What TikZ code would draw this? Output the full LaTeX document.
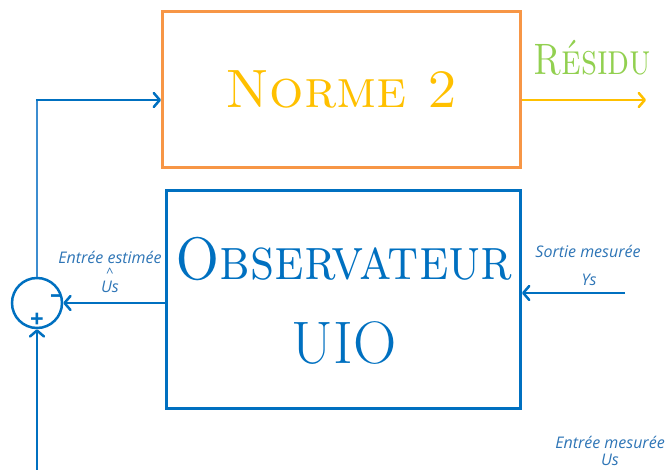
\documentclass[tikz,border=0pt]{standalone}
\usepackage{fontspec}
\newfontfamily\lblfont{Open Sans}
\usetikzlibrary{arrows.meta}
\definecolor{boxblue}{HTML}{0070C0}
\definecolor{lightblue}{HTML}{3C8DD0}
\definecolor{lblblue}{HTML}{2E75B6}
\definecolor{normorange}{HTML}{F79646}
\definecolor{normgold}{HTML}{FFC000}
\definecolor{resgreen}{HTML}{92D050}
\tikzset{
  blockbox/.style={draw, line width=3pt, inner sep=0pt},
  wire/.style={line width=2.5pt},
  link/.style={wire, -{Straight Barb[length=6pt,width=14pt,line cap=round,line join=round]}},
  lbl/.style={text=lblblue, font=\lblfont\itshape\fontsize{16}{16}\selectfont, inner sep=0pt},
  sign/.style={text=boxblue, font=\lblfont\bfseries\fontsize{24}{24}\selectfont, inner sep=0pt},
}
\begin{document}
\begin{tikzpicture}[x=1pt,y=-1pt]
\useasboundingbox (0,0) rectangle (670,470);
% upper block
\node[blockbox, draw=normorange, minimum width=358pt, minimum height=156pt, anchor=north west] (norme) at (161,10) {};
\node[text=normgold, font=\fontsize{54}{54}\selectfont] (normetxt) at (norme.center) {\textsc{Norme 2}};
% lower block
\node[blockbox, draw=boxblue, minimum width=354pt, minimum height=218pt, anchor=north west] (obs) at (165,189) {};
\node[text=boxblue, font=\fontsize{60}{60}\selectfont, inner sep=0pt, anchor=base] (obs1) at (344,280) {\scalebox{0.88}[1]{\textsc{Observateur}}};
\node[text=boxblue, font=\fontsize{60}{60}\selectfont, inner sep=0pt, anchor=base] (obs2) at (344,364) {UIO};
% summing junction
\node[draw=boxblue, circle, line width=2.5pt, minimum size=50pt, inner sep=0pt] (sum) at (37,303) {};
\node[sign] (minus) at (56,299) {–};
\node[sign] (plus) at (37,320) {+};
% free ends
\coordinate (resout) at (646,100);
\coordinate (ysin) at (625,293);
\coordinate (usin) at (37,470);
\coordinate (corner) at (37,100);
% connectors
\draw[wire, draw=lightblue] (sum.north) -- ([yshift=-1.25pt]corner);
\draw[link, draw=boxblue] ([xshift=-1.25pt]corner) -- (norme.west |- corner);
\draw[link, draw=normgold] (norme.east |- resout) -- (resout);
\draw[link, draw=boxblue] (obs.west |- sum.east) -- (sum.east);
\draw[link, draw=boxblue] (ysin) -- (obs.east |- ysin);
\draw[link, draw=boxblue] (usin) -- (sum.south);
% labels
\node[text=resgreen, font=\fontsize{44}{44}\selectfont, anchor=west, inner sep=0pt] (res) at (533,58) {\scalebox{0.8}[1]{\textsc{Résidu}}};
\node[lbl] (est) at (110,257) {Entrée estimée};
\node[lbl, font=\lblfont\fontsize{13}{13}\selectfont] (hat) at (110,273) {\textasciicircum};
\node[lbl] (ush) at (110,287) {Us};
\node[lbl] (sm) at (588,251) {Sortie mesurée};
\node[lbl] (ys) at (589,280) {Ys};
\node[lbl] (em) at (610,442) {Entrée mesurée};
\node[lbl] (us) at (610,460) {Us};
\end{tikzpicture}
\end{document}
